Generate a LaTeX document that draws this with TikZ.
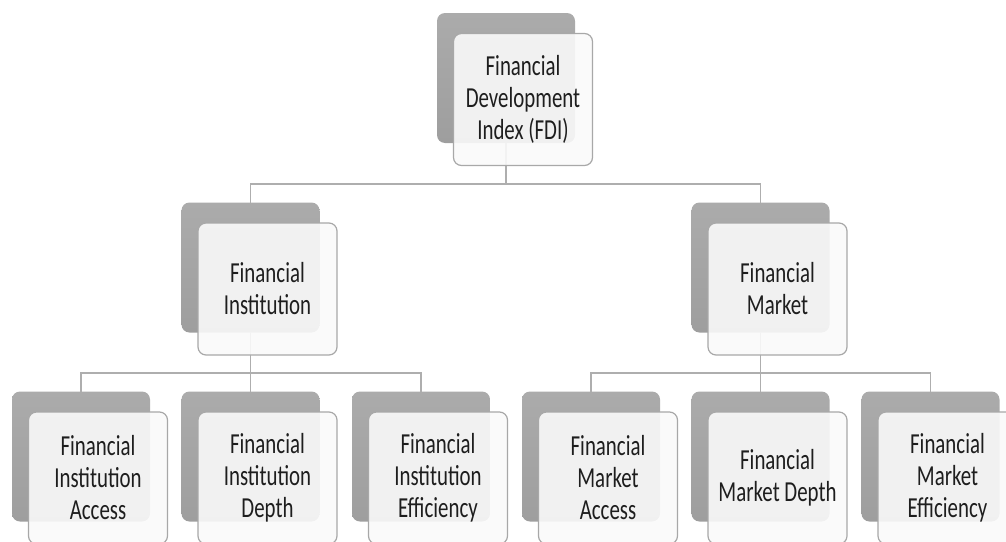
\documentclass[tikz,border=0pt]{standalone}
\usepackage{fontspec}
\setmainfont{Carlito}[FakeStretch=0.72]
\definecolor{backtop}{HTML}{ABABAB}
\definecolor{backbot}{HTML}{9E9E9E}
\definecolor{frontfill}{HTML}{FAFAFA}
\definecolor{edgegray}{HTML}{A8A8A8}
\definecolor{linkgray}{HTML}{AEAEAE}
\definecolor{textgray}{HTML}{1E1E1E}
\begin{document}
\begin{tikzpicture}[x=1pt,y=-1pt,
  backbox/.style={rectangle, rounded corners=8pt, minimum width=138pt,
    minimum height=130pt, outer sep=0pt, inner sep=0pt,
    top color=backtop, bottom color=backbot, draw=none},
  frontbox/.style={rectangle, rounded corners=8pt, minimum width=139pt,
    minimum height=132pt, outer sep=0pt, inner sep=0pt,
    draw=edgegray, line width=1.2pt, fill=frontfill, fill opacity=0.9,
    text opacity=1, align=center, text=textgray,
    font=\fontsize{29}{32}\selectfont},
  conn/.style={draw=linkgray, line width=1.8pt}]
\useasboundingbox (0,0) rectangle (1006,541);
\clip (0,0) rectangle (1006,541);

% shadow boxes behind each card
\node[backbox] (fdiB) at (506,78) {};
\node[backbox] (fiB) at (250.5,267.5) {};
\node[backbox] (fmB) at (760.5,267.5) {};
\node[backbox] (fiaB) at (81,456.5) {};
\node[backbox] (fidB) at (250.5,456.5) {};
\node[backbox] (fieB) at (421,456.5) {};
\node[backbox] (fmaB) at (591,456.5) {};
\node[backbox] (fmdB) at (760.5,456.5) {};
\node[backbox] (fmeB) at (930.5,456.5) {};

% tree connectors
\path (fdiB.south) ++(0,41) coordinate (topBus);
\draw[conn] (fdiB.south) -- (topBus) -| (fiB.north);
\draw[conn] (topBus) -| (fmB.north);

\path (fiB.south) ++(0,40.5) coordinate (fiBus);
\draw[conn] (fiB.south) -- (fiBus) -| (fiaB.north);
\draw[conn] (fiBus) -| (fieB.north);
\draw[conn] (fiBus) -- (fidB.north);

\path (fmB.south) ++(0,40.5) coordinate (fmBus);
\draw[conn] (fmB.south) -- (fmBus) -| (fmaB.north);
\draw[conn] (fmBus) -| (fmeB.north);
\draw[conn] (fmBus) -- (fmdB.north);

% translucent cards carrying the labels
\node[frontbox] (fdi) at ([shift={(17,21.5)}]fdiB.center) {Financial\\Development\\Index (FDI)};
\node[frontbox] (fi) at ([shift={(17,21.5)}]fiB.center) {Financial\\Institution};
\node[frontbox] (fm) at ([shift={(17,21.5)}]fmB.center) {Financial\\Market};
\node[frontbox] (fia) at ([shift={(17,21.5)}]fiaB.center) {Financial\\Institution\\Access};
\node[frontbox] (fid) at ([shift={(17,21.5)}]fidB.center) {Financial\\Institution\\Depth};
\node[frontbox] (fie) at ([shift={(17,21.5)}]fieB.center) {Financial\\Institution\\Efficiency};
\node[frontbox] (fma) at ([shift={(17,21.5)}]fmaB.center) {Financial\\Market\\Access};
\node[frontbox] (fmd) at ([shift={(17,21.5)}]fmdB.center) {Financial\\Market Depth};
\node[frontbox] (fme) at ([shift={(17,21.5)}]fmeB.center) {Financial\\Market\\Efficiency};
\end{tikzpicture}
\end{document}
